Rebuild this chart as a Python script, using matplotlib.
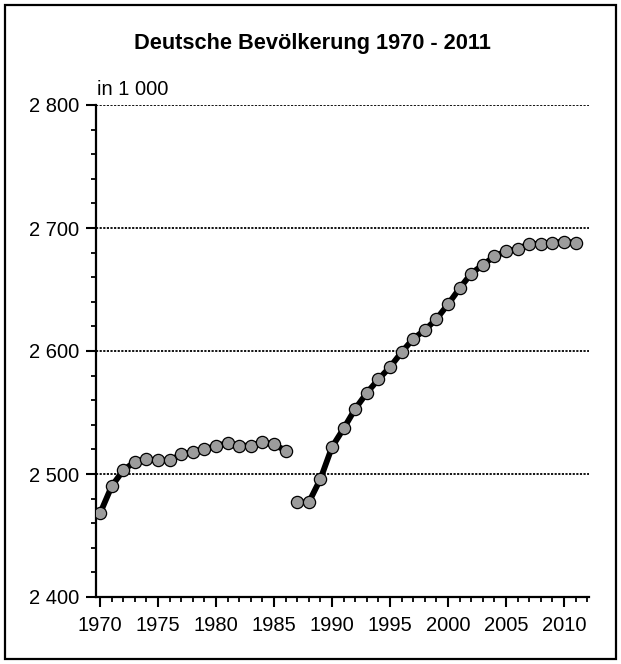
import matplotlib
matplotlib.use("Agg")
import matplotlib.pyplot as plt
from matplotlib.ticker import MultipleLocator, FuncFormatter
from matplotlib.patches import Rectangle

plt.rcParams['font.family'] = ['Liberation Sans', 'DejaVu Sans']

title = "Deutsche Bevölkerung 1970 - 2011"
unit_label = "in 1 000"

years_a = [1970, 1971, 1972, 1973, 1974, 1975, 1976, 1977, 1978, 1979,
           1980, 1981, 1982, 1983, 1984, 1985, 1986]
values_a = [2468, 2490, 2503, 2510, 2512, 2511, 2511, 2516, 2518, 2520,
            2523, 2525, 2523, 2523, 2526, 2524, 2519]

years_b = [1987, 1988, 1989, 1990, 1991, 1992, 1993, 1994, 1995, 1996,
           1997, 1998, 1999, 2000, 2001, 2002, 2003, 2004, 2005, 2006,
           2007, 2008, 2009, 2010, 2011]
values_b = [2477, 2477, 2496, 2522, 2537, 2553, 2566, 2577, 2587, 2599,
            2610, 2617, 2626, 2638, 2651, 2663, 2670, 2677, 2681, 2683,
            2687, 2687, 2688, 2689, 2688]

fig = plt.figure(figsize=(6.21, 6.64), dpi=100)
ax = fig.add_axes([96/621, 1-597/664, (589-96)/621, (597-105)/664])

for xs, ys in [(years_a, values_a), (years_b, values_b)]:
    ax.plot(xs, ys, color='black', lw=4.2, zorder=3, solid_capstyle='butt')
    ax.plot(xs, ys, ls='none', marker='o', ms=8.8, mfc='#9c9c9c',
            mec='black', mew=0.9, zorder=4)

ax.set_xlim(1969.65, 2012.15)
ax.set_ylim(2400, 2800)
ax.xaxis.set_major_locator(MultipleLocator(5))
ax.xaxis.set_minor_locator(MultipleLocator(1))
ax.yaxis.set_major_locator(MultipleLocator(100))
ax.yaxis.set_minor_locator(MultipleLocator(20))

def fmt(v, pos):
    return f"{int(round(v)):,}".replace(",", " ")
ax.yaxis.set_major_formatter(FuncFormatter(fmt))

for lvl in [2500, 2600, 2700, 2800]:
    ax.axhline(lvl, color='black', lw=1.3, ls=(0, (1.2, 0.8)), zorder=1)

for s in ['top', 'right']:
    ax.spines[s].set_visible(False)
for s in ['left', 'bottom']:
    ax.spines[s].set_linewidth(1.6)

ax.tick_params(axis='both', which='major', direction='out', length=7,
               width=1.5, labelsize=14.5)
ax.tick_params(axis='both', which='minor', direction='out', length=3.8,
               width=1.3)
ax.tick_params(axis='x', which='major', pad=6.5)
ax.tick_params(axis='y', which='major', pad=5)

fig.text(0.503, 1-43/664, title, ha='center', va='center',
         fontsize=15.7, fontweight='bold')
fig.text(97/621, 1-95/664, unit_label, ha='left', va='baseline',
         fontsize=14.5)

fig.patches.append(Rectangle((5/621, 5/664), 611/621, 654/664,
                             transform=fig.transFigure, fill=False,
                             edgecolor='black', lw=1.6))

fig.savefig("out.png", dpi=100)
